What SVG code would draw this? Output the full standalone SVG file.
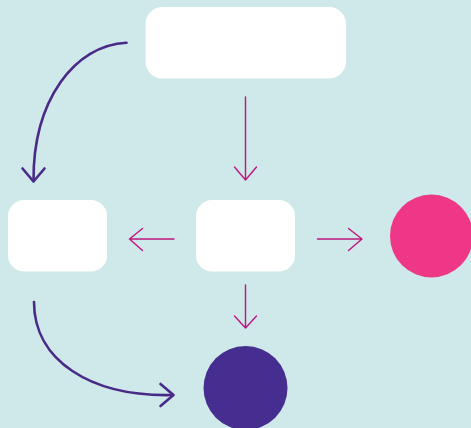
<svg xmlns="http://www.w3.org/2000/svg" width="471" height="428" viewBox="0 0 471 428">
<style>
.box{fill:#ffffff}
.thin{fill:none;stroke:#c0157f;stroke-width:1.4;stroke-linecap:round;stroke-linejoin:round}
.thick{fill:none;stroke:#4a2a88;stroke-width:2.6;stroke-linecap:round;stroke-linejoin:round}
</style>
<rect width="471" height="428" fill="#cfe8e9"/>
<g id="top-box"><rect class="box" x="145.5" y="7" width="200.5" height="71.5" rx="17"/></g>
<g id="left-box"><rect class="box" x="8" y="200" width="99" height="71.5" rx="16"/></g>
<g id="center-box"><rect class="box" x="196" y="200" width="99" height="71.5" rx="16"/></g>
<g id="pink-circle"><circle cx="431.5" cy="236" r="41.5" fill="#ef3787"/></g>
<g id="purple-circle"><circle cx="245.5" cy="388" r="42" fill="#452e8f"/></g>
<g id="connectors">
<path class="thin" d="M245.5,97V180M234.5,167L245.5,180L256.5,167"/>
<path class="thin" d="M174,239H129.5M142.5,228.5L129.5,239L142.5,250.5"/>
<path class="thin" d="M317.5,239H362M348.5,228.5L362,239L348.5,250.5"/>
<path class="thin" d="M245.5,285V328M234.5,316L245.5,328L256.5,316"/>
<path class="thick" d="M126.5,42.7C75,45 33,100 33.5,181"/>
<path class="thick" d="M22.5,168.5L33.5,181.5L44.5,168.5"/>
<path class="thick" d="M34,302C34,360 90,397 173,395"/>
<path class="thick" d="M160.5,384L173.5,395L160.5,406"/>
</g>
</svg>
